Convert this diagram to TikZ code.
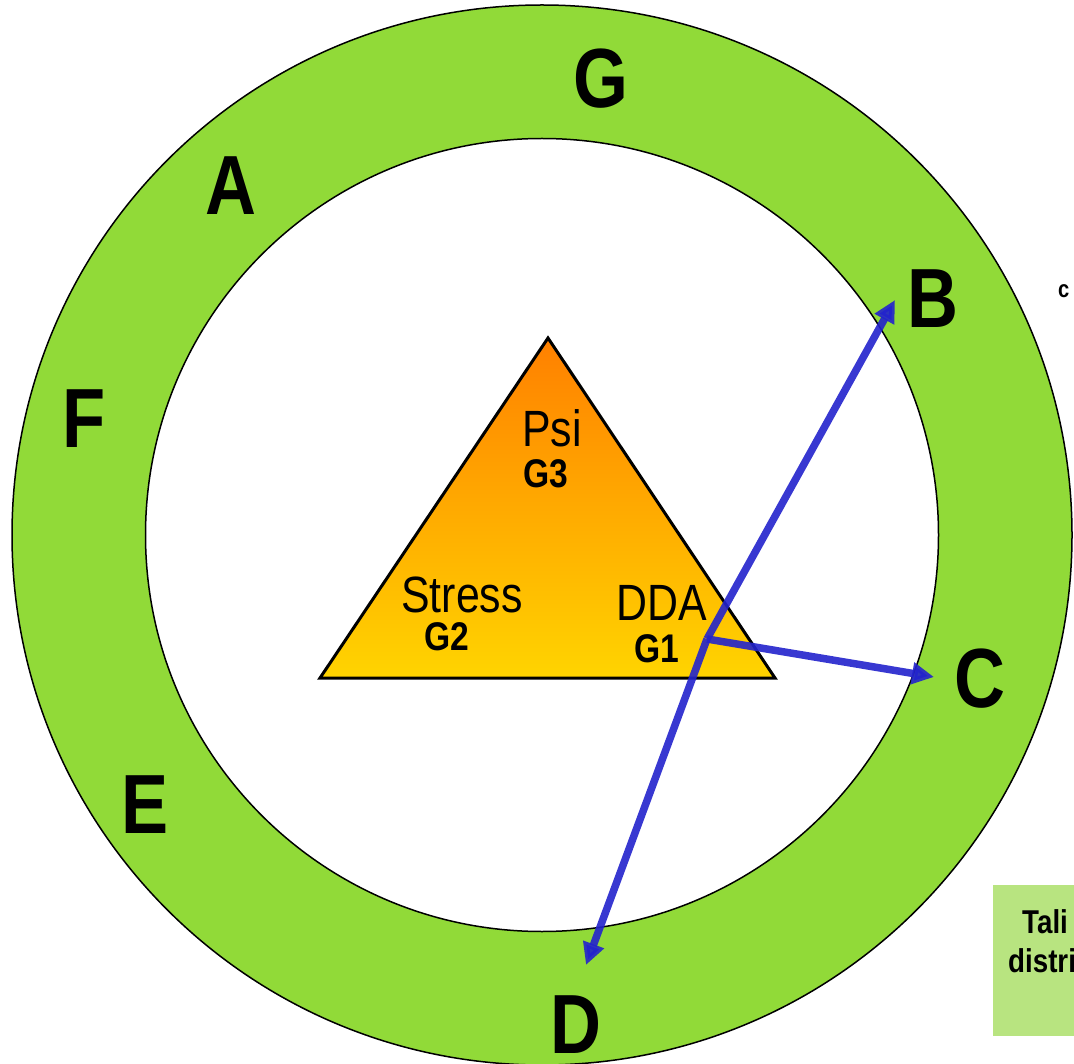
\documentclass[tikz,border=0pt]{standalone}
\usepackage{fontspec}
\setmainfont{Liberation Sans}[FakeStretch=0.84]
\usetikzlibrary{arrows.meta}
\definecolor{ringgreen}{RGB}{145,218,56}
\definecolor{boxgreen}{RGB}{184,228,128}
\definecolor{arrowblue}{RGB}{35,35,205}

\begin{document}
\begin{tikzpicture}[x=1pt,y=-1pt,
  letter/.style={font=\fontsize{84}{84}\selectfont\bfseries,anchor=base,inner sep=0pt},
  corner/.style={font=\fontsize{51}{51}\selectfont,anchor=base,inner sep=0pt},
  gname/.style={font=\fontsize{40}{40}\selectfont\bfseries,anchor=base,inner sep=0pt},
  note/.style={font=\fontsize{33}{33}\selectfont\bfseries,anchor=base west,inner sep=0pt},
  link/.style={arrowblue,opacity=.9,line width=7.5pt,-{Triangle[length=22pt,width=21pt]}}]
  \useasboundingbox (0,0) rectangle (1074,1064);
  \coordinate (c) at (542,535);
  \draw[line width=1.5pt,fill=ringgreen] (c) circle[radius=530];
  \draw[line width=1.5pt,fill=white] (c) circle[radius=396.5];
  \draw[line width=3pt,line join=miter,top color={rgb,255:red,255;green,128;blue,0},
    bottom color={rgb,255:red,255;green,212;blue,0}]
    (548,338) -- (775,678) -- (320,678) -- cycle;
  \node[corner] (psi) at (552,447) {Psi};
  \node[gname] (g3) at (546,487) {G3};
  \node[corner] (stress) at (462,612) {Stress};
  \node[gname] (g2) at (447,650) {G2};
  \node[corner] (dda) at (662,620) {DDA};
  \node[gname] (g1) at (657,662) {G1};
  \node[letter] (G) at (601,108) {G};
  \node[letter] (A) at (231,215) {A};
  \node[letter] (B) at (933,328) {B};
  \node[letter] (F) at (84,448) {F};
  \node[letter] (C) at (980,707) {C};
  \node[letter] (E) at (145,833) {E};
  \node[letter] (D) at (576,1053) {D};
  \node[font=\fontsize{24}{24}\selectfont\bfseries,anchor=base west,inner sep=0pt] (cut) at (1058,298) {c};
  % links from G1
  \coordinate (src) at (707,639);
  \coordinate (toB) at (895,300);
  \coordinate (toC) at (934,677);
  \coordinate (toD) at (586,965);
  \draw[link] (src) -- (toB);
  \draw[link] (src) -- (toC);
  \draw[link] (src) -- (toD);
  % note box, cut by the page
  \fill[boxgreen] (993,885) rectangle (1100,1036);
  \node[note] (tali) at (1022,933) {Tali};
  \node[note] (distri) at (1008,972) {distri};
\end{tikzpicture}
\end{document}
